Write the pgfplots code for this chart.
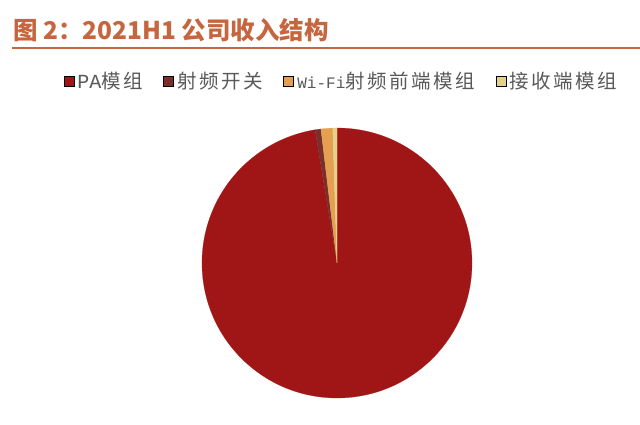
\documentclass[border=0pt]{standalone}
\usepackage{fontspec}
\usepackage{pgfplots}
\usepackage{pgfplotstable}
\pgfplotsset{compat=1.18}
\newfontfamily\cjk{Noto Sans CJK SC}
\newfontfamily\legcjk{Noto Sans CJK SC}[LetterSpace=13]
\newfontfamily\legmono{Liberation Mono}

\definecolor{titlec}{HTML}{C6663F}
\definecolor{legtext}{HTML}{595959}
\definecolor{pa}{HTML}{A01616}
\definecolor{sw}{HTML}{7B2E2A}
\definecolor{wifi}{HTML}{E4A050}
\definecolor{rx}{HTML}{E2D28C}

% revenue share, 2021H1 (%)
\pgfplotstableread{
label value color
PA    97.4  pa
SW    0.7   sw
WiFi  1.4   wifi
RX    0.5   rx
}\piedata

\begin{document}
\begin{tikzpicture}
\useasboundingbox (0,0) rectangle (640bp,425bp);
% title and rule
\node[anchor=base west, inner sep=0pt, text=titlec,
      font=\cjk\bfseries\fontsize{24.5bp}{28bp}\selectfont] at (13bp,385.5bp)
      {图 2：2021H1 公司收入结构};
\draw[titlec, line width=2bp] (12bp,377bp) -- (640bp,377bp);

\begin{axis}[
    at={(337bp,162bp)}, anchor=center,
    x=135bp, y=135bp,
    xmin=-1, xmax=1, ymin=-1, ymax=1,
    hide axis, clip=false,
    legend columns=4,
    legend style={at={(0.515,1.174)}, anchor=center, draw=none, fill=none,
        font=\legcjk\fontsize{19.5bp}{22bp}\selectfont, text=legtext,
        /tikz/every even column/.append style={column sep=19bp},
        nodes={inner sep=1.5bp}, cells={anchor=west}},
    legend image code/.code={\fill[#1] (0bp,-5bp) rectangle (10bp,5bp);
        \path (12bp,0bp);},
]
\xdef\startang{90}
\pgfplotsforeachungrouped \i in {0,...,3}{%
  \pgfplotstablegetelem{\i}{value}\of\piedata \let\val\pgfplotsretval
  \pgfplotstablegetelem{\i}{color}\of\piedata \let\col\pgfplotsretval
  \pgfmathsetmacro\endang{\startang - 3.6*\val}%
  \edef\temp{\noexpand\filldraw[fill=\col, draw=\col, line width=0.2bp]
    (axis cs:0,0) -- ++(\startang:135bp)
    arc[start angle=\startang, end angle=\endang, radius=135bp] -- cycle;}%
  \temp
  \xdef\startang{\endang}%
}
\addlegendimage{fill=pa}
\addlegendentry{{\legmono\fontsize{20bp}{22bp}\selectfont PA}模组}
\addlegendimage{fill=sw}
\addlegendentry{射频开关}
\addlegendimage{fill=wifi}
\addlegendentry{{\legmono\fontsize{16bp}{22bp}\selectfont Wi-Fi}射频前端模组}
\addlegendimage{fill=rx}
\addlegendentry{接收端模组}
\end{axis}
\end{tikzpicture}
\end{document}
